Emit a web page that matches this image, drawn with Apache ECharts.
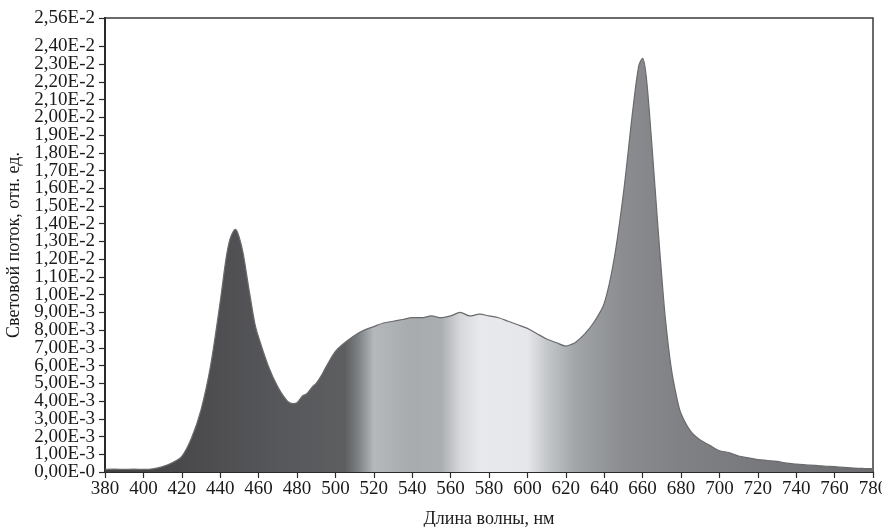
<!DOCTYPE html>
<html>
<head>
<meta charset="utf-8">
<style>
  html, body { margin: 0; padding: 0; background: #fff; }
  #spectrum-chart { width: 882px; height: 527px; }
</style>
<script src="https://cdn.jsdelivr.net/npm/echarts@6/dist/echarts.min.js"></script>
</head>
<body>
<div id="spectrum-chart"></div>
<script>
'use strict';

// длина волны, нм
var wavelengths = [
  380, 385, 390, 395, 400, 405, 410, 415, 420, 425,
  430, 435, 440, 443, 445, 447, 448, 450, 452, 455,
  458, 460, 465, 470, 475, 478, 480, 483, 485, 488,
  490, 493, 495, 500, 505, 510, 515, 520, 525, 530,
  535, 540, 545, 550, 555, 560, 565, 570, 575, 580,
  585, 590, 595, 600, 605, 610, 615, 620, 623, 625,
  630, 635, 640, 645, 650, 655, 658, 660, 662, 665,
  668, 670, 672, 675, 678, 680, 685, 690, 695, 700,
  705, 710, 715, 720, 725, 730, 735, 740, 745, 750,
  755, 760, 765, 770, 775, 780
];

// световой поток, отн. ед.
var flux = [
  0.00015, 0.00016, 0.00015, 0.00016, 0.00015, 0.00018, 0.00030, 0.00052, 0.00088, 0.0019,
  0.0035, 0.0060, 0.0096, 0.0120, 0.0131, 0.0136, 0.01368, 0.0132, 0.0123, 0.0103,
  0.0084, 0.0076, 0.0060, 0.0048, 0.0040, 0.00385, 0.0039, 0.0043, 0.0044, 0.0048,
  0.0050, 0.0055, 0.0059, 0.0068, 0.0073, 0.0077, 0.0080, 0.0082, 0.0084, 0.0085,
  0.0086, 0.0087, 0.0087, 0.0088, 0.0087, 0.0088, 0.0090, 0.0088, 0.0089, 0.0088,
  0.0087, 0.0085, 0.0083, 0.0081, 0.0078, 0.0075, 0.0073, 0.0071, 0.0072, 0.0073,
  0.0078, 0.0085, 0.0095, 0.0119, 0.0157, 0.0205, 0.0229, 0.02333, 0.0222, 0.0182,
  0.0138, 0.0110, 0.0085, 0.0058, 0.0041, 0.0033, 0.0023, 0.0018, 0.0015, 0.0012,
  0.0011, 0.0009, 0.0008, 0.0007, 0.00065, 0.0006, 0.0005, 0.00045, 0.0004, 0.00037,
  0.00033, 0.0003, 0.00026, 0.00022, 0.0002, 0.00019
];

var yTickValues = [
  0, 0.001, 0.002, 0.003, 0.004, 0.005, 0.006, 0.007, 0.008, 0.009,
  0.010, 0.011, 0.012, 0.013, 0.014, 0.015, 0.016, 0.017, 0.018, 0.019,
  0.020, 0.021, 0.022, 0.023, 0.024, 0.0256
];
var yTickLabels = [
  '0,00E-0', '1,00E-3', '2,00E-3', '3,00E-3', '4,00E-3', '5,00E-3', '6,00E-3', '7,00E-3', '8,00E-3', '9,00E-3',
  '1,00E-2', '1,10E-2', '1,20E-2', '1,30E-2', '1,40E-2', '1,50E-2', '1,60E-2', '1,70E-2', '1,80E-2', '1,90E-2',
  '2,00E-2', '2,10E-2', '2,20E-2', '2,30E-2', '2,40E-2', '2,56E-2'
];

// цвет заливки по длине волны (серый спектр)
var fillStopsNm = [380, 430, 470, 505, 512, 520, 528, 540, 555, 565, 575, 600, 610, 625, 650, 680, 780];
var fillStopsColor = [
  '#404042', '#4c4c4f', '#56575a', '#5c5e60', '#7e8184', '#b6b9bc', '#b0b3b6', '#a8abae', '#abaeb1',
  '#d5d7da', '#e8e9ec', '#e6e7ea', '#c5c8cb', '#a2a5a8', '#8a8c8f', '#7f8184', '#6c6d70'
];

var FONT = '"Liberation Serif", "DejaVu Serif", serif';

function formatYLabel(val) {
  for (var i = 0; i < yTickValues.length; i++) {
    if (Math.abs(yTickValues[i] - val) < 1e-9) {
      return yTickLabels[i];
    }
  }
  return '';
}

// подписи делим на чётные/нечётные, чтобы echarts не прятал соседние
var evenTicks = yTickValues.filter(function (v, i) { return i % 2 === 0; });
var oddTicks = yTickValues.filter(function (v, i) { return i % 2 === 1; });

var chart = echarts.init(document.getElementById('spectrum-chart'));

var seriesData = wavelengths.map(function (nm, i) {
  return [nm, flux[i]];
});

var gradientStops = fillStopsNm.map(function (nm, i) {
  return { offset: (nm - 380) / 400, color: fillStopsColor[i] };
});

function yAxisOption(labelValues, withName) {
  return {
    type: 'value',
    position: 'left',
    min: 0,
    max: 0.0256,
    name: withName ? 'Световой поток, отн. ед.' : '',
    nameLocation: 'middle',
    nameRotate: 90,
    nameGap: 76,
    nameTextStyle: { fontFamily: FONT, fontSize: 18, color: '#1a1a1a' },
    axisLine: { show: true, lineStyle: { color: '#2a2a2a', width: 2 } },
    axisTick: {
      show: withName,
      length: 6,
      customValues: yTickValues,
      lineStyle: { color: '#2a2a2a', width: 1.2 }
    },
    axisLabel: {
      fontFamily: FONT,
      fontSize: 19,
      color: '#1a1a1a',
      margin: 10,
      showMinLabel: true,
      showMaxLabel: true,
      customValues: labelValues,
      formatter: formatYLabel
    },
    splitLine: { show: false }
  };
}

var option = {
  backgroundColor: '#fff',
  animation: false,
  grid: {
    left: 105,
    right: 9,
    top: 18,
    bottom: 55,
    outerBoundsMode: 'none',
    containLabel: false,
    show: true,
    borderColor: '#3a3a3a',
    borderWidth: 1.5
  },
  xAxis: {
    type: 'value',
    min: 380,
    max: 780,
    interval: 20,
    name: 'Длина волны, нм',
    nameLocation: 'middle',
    nameGap: 38,
    nameTextStyle: { fontFamily: FONT, fontSize: 18, color: '#1a1a1a' },
    axisLine: { show: true, lineStyle: { color: '#2a2a2a', width: 2 } },
    axisTick: { show: true, length: 6, lineStyle: { color: '#2a2a2a', width: 1.2 } },
    axisLabel: { fontFamily: FONT, fontSize: 19, color: '#1a1a1a', margin: 8, showMaxLabel: true, showMinLabel: true },
    splitLine: { show: false }
  },
  yAxis: [yAxisOption(evenTicks, true), yAxisOption(oddTicks, false)],
  series: [{
    type: 'line',
    yAxisIndex: 0,
    data: seriesData,
    smooth: 0.3,
    symbol: 'none',
    lineStyle: { color: '#6a6a6c', width: 1.2 },
    areaStyle: {
      opacity: 1,
      color: new echarts.graphic.LinearGradient(0, 0, 1, 0, gradientStops)
    }
  }]
};

chart.setOption(option);
</script>
</body>
</html>
